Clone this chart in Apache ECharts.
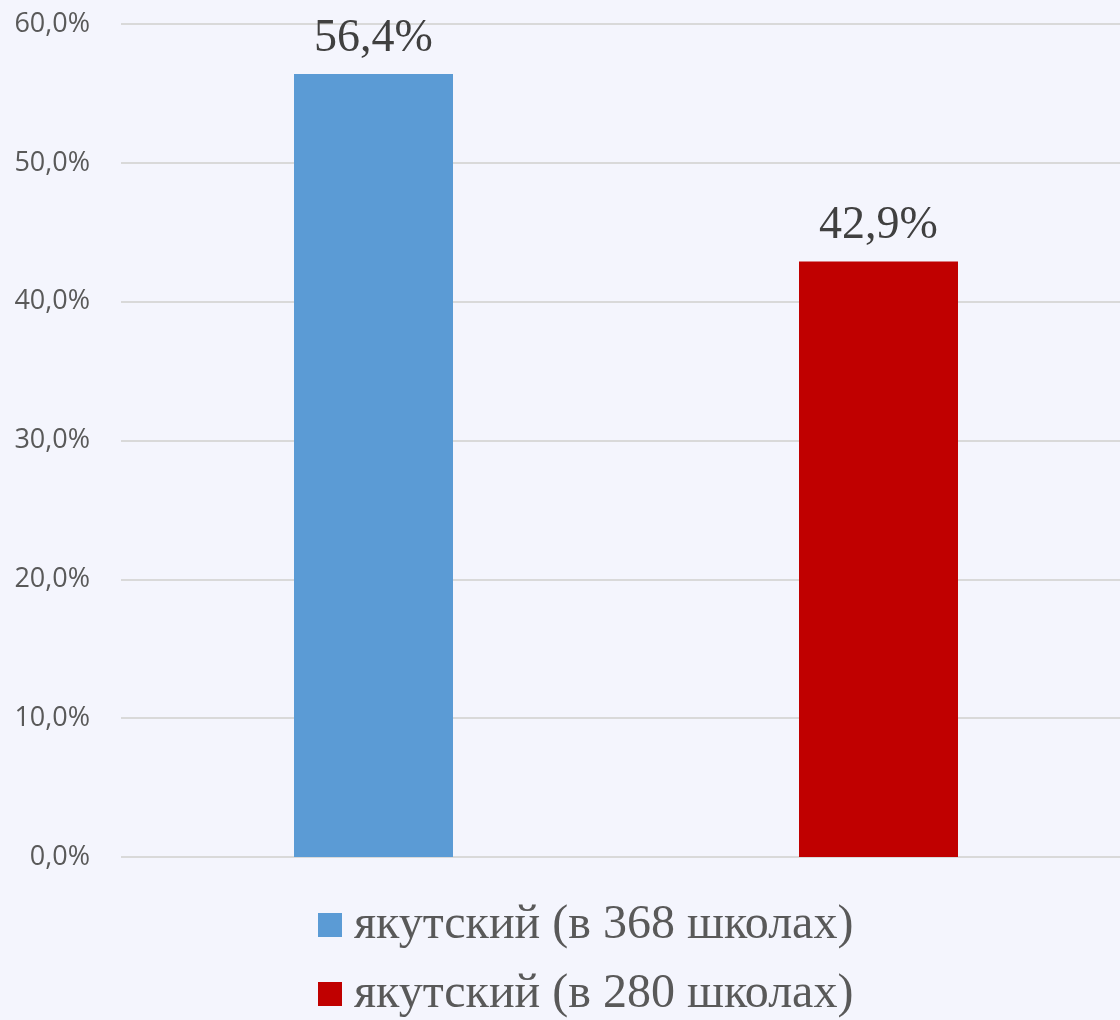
<!DOCTYPE html>
<html><head><meta charset="utf-8">
<script src="https://cdn.jsdelivr.net/npm/echarts@6/dist/echarts.min.js"></script>
<style>html,body{margin:0;padding:0;background:#F4F5FD;}#c{width:1120px;height:1020px;}</style>
</head><body><div id="c"></div>
<script>
var categories = ['A', 'B'];
var seriesNames = ['якутский (в 368 школах)', 'якутский (в 280 школах)'];
var values368 = [56.4, '-'];
var values280 = ['-', 42.9];
var colors = ['#5B9BD5', '#C00000'];

function pct(v){ return Number(v).toFixed(1).replace('.', ',') + '%'; }

var chart = echarts.init(document.getElementById('c'));
var labelCfg = {show:true, position:'top', distance:12, fontFamily:'Liberation Serif', fontSize:46, color:'#404040',
  formatter:function(p){return pct(p.value);}};
var legendText = {fontFamily:'Liberation Serif', fontSize:48, lineHeight:48, color:'#595959', padding:[0,0,0,7]};
chart.setOption({
  backgroundColor:'#F4F5FD',
  animation:false,
  grid:{left:121, top:24, width:1010, height:833, outerBoundsMode:'none', containLabel:false},
  xAxis:{type:'category', data:categories, axisLine:{show:false}, axisTick:{show:false}, axisLabel:{show:false}},
  yAxis:{type:'value', min:0, max:60, interval:10,
    axisLabel:{formatter:function(v){return pct(v);}, fontFamily:'Open Sans', fontSize:27, color:'#595959', margin:31},
    splitLine:{lineStyle:{color:'#D9D9D9', width:2}}, axisLine:{show:false}, axisTick:{show:false}},
  legend:[
    {left:318, top:901, itemWidth:24, itemHeight:24, itemGap:0, icon:'rect', padding:0,
      textStyle:legendText, data:[seriesNames[0]]},
    {left:318, top:970, itemWidth:24, itemHeight:24, itemGap:0, icon:'rect', padding:0,
      textStyle:legendText, data:[seriesNames[1]]}
  ],
  series:[
    {name:seriesNames[0], type:'bar', stack:'s', data:values368, barWidth:159, itemStyle:{color:colors[0]}, label:labelCfg},
    {name:seriesNames[1], type:'bar', stack:'s', data:values280, barWidth:159, itemStyle:{color:colors[1]}, label:labelCfg}
  ]
});
</script></body></html>
